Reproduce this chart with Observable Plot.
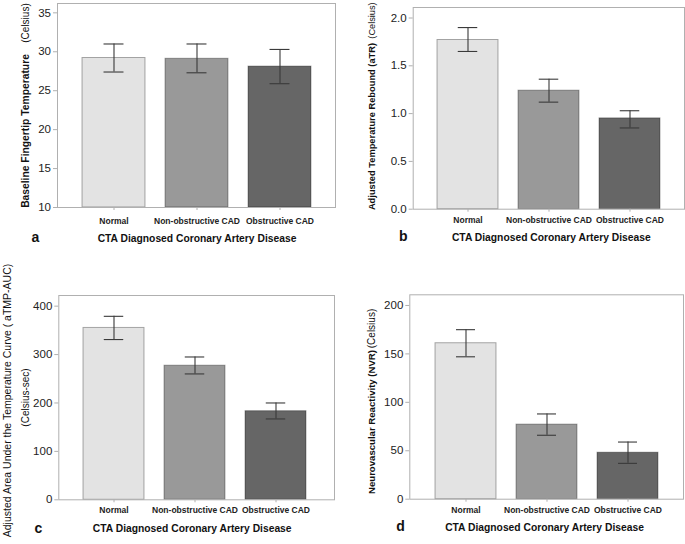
<!DOCTYPE html>
<html>
<head>
<meta charset="utf-8">
<script src="https://cdn.jsdelivr.net/npm/d3@7"></script>
<script src="https://cdn.jsdelivr.net/npm/@observablehq/plot@0.6"></script>
<style>
  html, body { margin: 0; padding: 0; background: #fff; }
  #root { position: relative; width: 685px; height: 544px; background: #fff; overflow: hidden; }
  .panel { position: absolute; }
</style>
</head>
<body>
<div id="root"></div>
<script>
// ---- data ----
const categories = ["Normal", "Non-obstructive CAD", "Obstructive CAD"];

const baselineTemp   = [29.2, 29.1, 28.1];
const baselineTempLo = [27.4, 27.3, 25.9];
const baselineTempHi = [31.0, 31.0, 30.3];

const aTR   = [1.77, 1.24, 0.95];
const aTRLo = [1.65, 1.12, 0.85];
const aTRHi = [1.90, 1.36, 1.03];

const aTMPAUC   = [355, 277, 183];
const aTMPAUCLo = [331, 260, 167];
const aTMPAUCHi = [379, 295, 200];

const NVR   = [161, 77, 48];
const NVRLo = [147, 66, 37];
const NVRHi = [175, 88, 59];

const ticksA = [10, 15, 20, 25, 30, 35];
const ticksB = [0, 0.5, 1.0, 1.5, 2.0];
const ticksC = [0, 100, 200, 300, 400];
const ticksD = [0, 50, 100, 150, 200];

const xTitle = "CTA Diagnosed Coronary Artery Disease";

// ---- styling ----
const FONT = "'Liberation Sans', Arial, Helvetica, sans-serif";
const barFills = ["#e3e3e3", "#999999", "#666666"];
const frameColor = "#b0b0b0";
const errColor = "#3a3a3a";

function rows(v, lo, hi) {
  return categories.map((c, i) => ({cat: c, v: v[i], lo: lo[i], hi: hi[i]}));
}

function txt(p, t) {
  return Plot.text([t.text], {
    text: d => d,
    frameAnchor: "top-left",
    dx: t.x - p.mL,
    dy: t.y - p.mT,
    rotate: t.rotate || 0,
    textAnchor: t.anchor || "middle",
    lineAnchor: t.line || "middle",
    fontSize: t.size,
    fontWeight: t.weight || "normal",
    fill: "#111"
  });
}

function panel(p) {
  const data = rows(p.values, p.lo, p.hi);
  const bw = (p.xRange[1] - p.xRange[0]) / 3 * (1 - p.pad);
  const capInset = Math.max(0, (bw - 20) / 2);
  const base = p.yDomain[0];
  const chart = Plot.plot({
    width: p.width,
    height: p.height,
    marginLeft: p.mL,
    marginRight: p.mR,
    marginTop: p.mT,
    marginBottom: p.mB,
    style: {fontFamily: FONT, background: "white", overflow: "visible"},
    x: {domain: categories, range: p.xRange, paddingInner: p.pad, paddingOuter: p.pad / 2, axis: null},
    y: {domain: p.yDomain, axis: null},
    color: {domain: categories, range: barFills},
    marks: [
      Plot.barY(data, {x: "cat", y1: () => base, y2: "v", fill: "cat", stroke: "#000", strokeOpacity: 0.32, strokeWidth: 1}),
      Plot.ruleX(data, {x: "cat", y1: "lo", y2: "hi", stroke: errColor, strokeWidth: 1.1}),
      Plot.tickY(data, {x: "cat", y: "hi", stroke: errColor, strokeWidth: 1.1, insetLeft: capInset, insetRight: capInset}),
      Plot.tickY(data, {x: "cat", y: "lo", stroke: errColor, strokeWidth: 1.1, insetLeft: capInset, insetRight: capInset}),
      Plot.frame({stroke: frameColor, strokeWidth: 1}),
      Plot.axisY({ticks: p.yTicks, tickFormat: p.yFormat, tickSize: 4, tickPadding: 2.5, stroke: frameColor, fill: "#222", fontSize: 11.5, label: null}),
      Plot.axisX({tickSize: 3, tickPadding: p.xGap - 3, stroke: frameColor, fill: "#222", fontSize: 8.5, fontWeight: "bold", label: null}),
      txt(p, {text: xTitle, x: p.titleX, y: p.titleY, size: 10.3, weight: "bold"}),
      txt(p, {text: p.letter, x: p.letterX, y: p.letterY, size: 14, weight: "bold", line: "bottom"}),
      ...p.yLabels.map(l => txt(p, {text: l.text, x: l.x, y: l.y, size: l.size, weight: l.weight, rotate: -90}))
    ]
  });
  const div = document.createElement("div");
  div.className = "panel";
  div.style.left = p.left + "px";
  div.style.top = p.top + "px";
  div.appendChild(chart);
  document.getElementById("root").appendChild(div);
}

panel({
  values: baselineTemp, lo: baselineTempLo, hi: baselineTempHi,
  yDomain: [10, 36.2], yTicks: ticksA, yFormat: d3.format("d"),
  left: 0, top: 0, width: 342, height: 272, mL: 57, mR: 7, mT: 3, mB: 65,
  xRange: [71.25, 321.75], pad: 0.245, xGap: 10.5,
  titleX: 196.5, titleY: 238, letter: "a", letterX: 35, letterY: 241.7,
  yLabels: [
    {text: "Baseline Fingertip Temperature", x: 25, y: 130.5, size: 10.3, weight: "bold"},
    {text: "(Celsius)", x: 25, y: 22.5, size: 10, weight: "normal"}
  ]
});

panel({
  values: aTR, lo: aTRLo, hi: aTRHi,
  yDomain: [0, 2.11], yTicks: ticksB, yFormat: d3.format(".1f"),
  left: 342, top: 0, width: 343, height: 272, mL: 70.7, mR: 1, mT: 7, mB: 63.3,
  xRange: [84.9, 328.6], pad: 0.243, xGap: 8,
  titleX: 208.8, titleY: 237, letter: "b", letterX: 60.7, letterY: 240.7,
  yLabels: [
    {text: "Adjusted Temperature Rebound (aTR)", x: 29.7, y: 126, size: 9.3, weight: "bold"},
    {text: "(Celsius)", x: 29.7, y: 20, size: 9.2, weight: "normal"}
  ]
});

panel({
  values: aTMPAUC, lo: aTMPAUCLo, hi: aTMPAUCHi,
  yDomain: [0, 422], yTicks: ticksC, yFormat: d3.format("d"),
  left: 0, top: 272, width: 342, height: 272, mL: 58.3, mR: 8, mT: 23, mB: 44.7,
  xRange: [72.55, 317.05], pad: 0.245, xGap: 7.4,
  titleX: 191.7, titleY: 255.8, letter: "c", letterX: 38, letterY: 260.3,
  yLabels: [
    {text: "Adjusted Area Under the Temperature Curve ( aTMP-AUC)", x: 7.3, y: 128, size: 10.5, weight: "normal"},
    {text: "(Celsius-sec)", x: 25, y: 125, size: 10, weight: "normal"}
  ]
});

panel({
  values: NVR, lo: NVRLo, hi: NVRHi,
  yDomain: [0, 211], yTicks: ticksD, yFormat: d3.format("d"),
  left: 342, top: 272, width: 343, height: 272, mL: 67.3, mR: 2, mT: 22.3, mB: 45.3,
  xRange: [81.75, 327.45], pad: 0.243, xGap: 8,
  titleX: 202, titleY: 255, letter: "d", letterX: 58, letterY: 258.7,
  yLabels: [
    {text: "Neurovascular Reactivity (NVR)", x: 29, y: 149.5, size: 9.6, weight: "bold"},
    {text: "(Celsius)", x: 29, y: 56, size: 10, weight: "normal"}
  ]
});
</script>
</body>
</html>
